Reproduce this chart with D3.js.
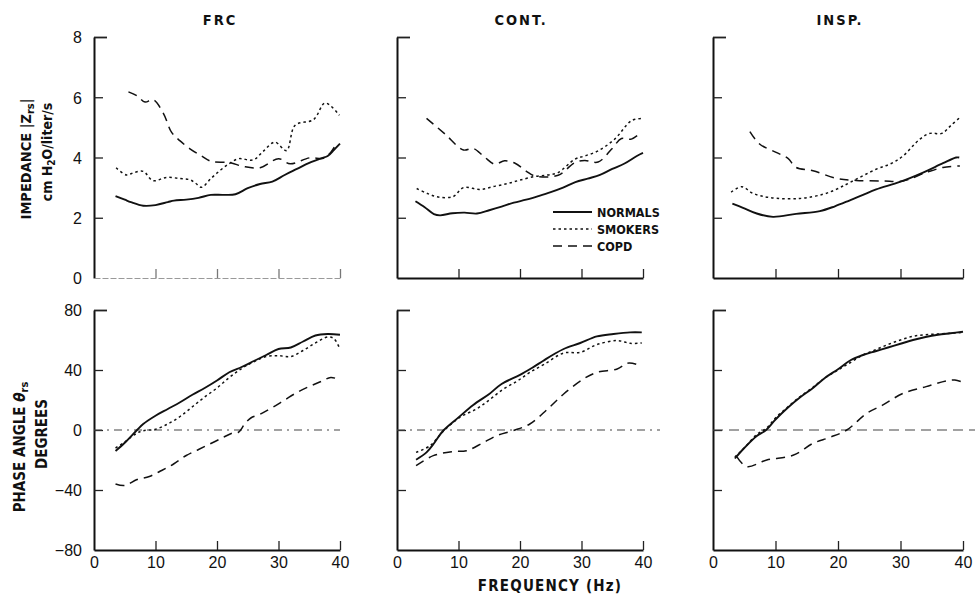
<!DOCTYPE html>
<html><head><meta charset="utf-8">
<script src="https://cdn.jsdelivr.net/npm/d3@7"></script>
<style>
body{margin:0;background:#fff;}
svg{display:block;}
.num{font-family:"Liberation Sans",Arial,sans-serif;font-size:16px;fill:#111;}
.lab{font-family:"Liberation Sans Narrow","DejaVu Sans Condensed",sans-serif;font-weight:bold;fill:#111;}
</style></head><body>
<svg id="c" width="975" height="601"></svg>
<script>
// ---------- data ----------
const panelTitles = ["FRC", "CONT.", "INSP."];
const seriesNames = ["NORMALS", "SMOKERS", "COPD"];
const impTicks = [0, 2, 4, 6, 8];
const phaseTicks = [-80, -40, 0, 40, 80];
const freqTicks = [0, 10, 20, 30, 40];

// FRC impedance |Zrs| (freq Hz, cm H2O/liter/s)
const frcImpNormals = [[3.5,2.72],[5,2.6],[6,2.52],[8,2.4],[10,2.42],[12,2.52],[13,2.57],[15,2.6],[17,2.66],[19,2.76],[21,2.76],[23,2.78],[25,2.98],[27,3.12],[29,3.2],[31,3.42],[33,3.62],[35,3.82],[37,3.98],[38,4.05],[39,4.25],[40,4.46]];
const frcImpSmokers = [[3.6,3.66],[5.3,3.42],[6.5,3.5],[8,3.54],[9.6,3.23],[11.8,3.34],[14,3.3],[15.6,3.26],[16.5,3.15],[17.5,3.01],[19,3.3],[20.5,3.57],[22,3.8],[23.5,3.96],[25.9,3.92],[27.5,4.2],[29.4,4.51],[31.3,4.23],[32.7,5.07],[35.7,5.26],[37.6,5.81],[39.9,5.4]];
const frcImpCopd = [[5.6,6.18],[7,6.05],[8.3,5.84],[9.6,5.92],[11.3,5.46],[12.6,4.84],[14,4.55],[15.6,4.29],[17.5,4.05],[19.1,3.87],[22.1,3.83],[24.3,3.7],[27,3.66],[30,3.96],[31.9,3.79],[35.1,3.99],[37.3,3.97],[38.6,4.2],[39.5,4.51]];
// FRC phase angle (degrees)
const frcPhaseNormals = [[3.5,-14],[5,-8.5],[7,0],[8,4],[10,9.5],[12,14],[14,18.5],[16,23.5],[18,28],[20,33],[22,38.5],[24,42],[26,46],[28,50],[30,54],[32,55],[34,59],[36,63],[38,64],[40,63.5]];
const frcPhaseSmokers = [[3.5,-12],[5,-8],[7,-2],[8,-0.5],[10,0.5],[12,4],[14,9],[16,15.5],[18,22],[20,28],[22,35],[24,41],[26,45.5],[28,49],[30,49.5],[32,49],[34,53],[36,58],[38,62],[39,61],[40,54]];
const frcPhaseCopd = [[3.5,-36],[5,-37],[7,-33],[9,-31],[11,-27],[13,-22.5],[15,-17],[17,-13],[19,-9],[21,-5],[22.5,-2],[23.5,-1.5],[24.5,4],[25.5,8],[27,10.5],[29,15],[31,20],[33,25],[35,29],[37,32.5],[38.5,35],[40,33.5]];
// CONT. impedance
const contImpNormals = [[3,2.55],[4.5,2.35],[6,2.12],[7,2.08],[9,2.15],[11,2.17],[13,2.14],[15,2.25],[17,2.37],[19,2.5],[21,2.6],[23,2.72],[25,2.85],[27,3.0],[29,3.18],[31,3.3],[33,3.42],[35,3.62],[37,3.8],[39,4.05],[40,4.15]];
const contImpSmokers = [[3.2,2.97],[5,2.8],[6.7,2.69],[9.1,2.7],[10.8,3.0],[13.5,2.94],[16,3.05],[18.1,3.14],[20,3.25],[22.4,3.37],[24.5,3.42],[26.2,3.5],[28.9,3.94],[30.5,4.05],[32.7,4.22],[35.4,4.61],[38.1,5.22],[39.8,5.3]];
const contImpCopd = [[4.8,5.3],[7.8,4.78],[10.8,4.25],[12.4,4.3],[14.2,4.02],[15.9,3.78],[17.5,3.89],[19.2,3.81],[21,3.55],[22.4,3.39],[26.2,3.41],[28.9,3.83],[30.5,3.9],[32.7,3.85],[34.9,4.28],[36.5,4.63],[38.1,4.61],[39.8,4.85]];
// CONT. phase angle
const contPhaseNormals = [[3.1,-19.8],[4.8,-14.9],[6,-9],[7.5,-0.5],[10,8.4],[12.4,16.7],[15,24],[17,30.7],[20,36.7],[22,41.5],[23.8,46.2],[25.5,50.5],[27.1,54],[29.8,58],[32.5,62.4],[35.2,64],[37.9,65.1],[39.8,65.1]];
const contPhaseSmokers = [[3.1,-14.9],[5.4,-10.4],[7.5,-1],[10.2,8.4],[12.9,14],[15,20],[17.3,27.3],[19.5,32.5],[21.6,38.4],[24,44],[27.1,51.3],[29.8,51.8],[32.5,56.9],[35.8,59.6],[37.9,57.8],[39.8,58]];
const contPhaseCopd = [[3.1,-23.8],[5.9,-17.1],[9.1,-14.4],[11.3,-13.8],[14,-8.5],[16.2,-3.8],[18.9,-0.4],[21.6,4],[24.5,14],[27.1,24],[30.3,34],[32.5,38.4],[35.8,40.7],[37.7,44.7],[39.8,42.4]];
// INSP. impedance
const inspImpNormals = [[3.1,2.47],[4.8,2.33],[7,2.14],[9.6,2.03],[13.3,2.13],[17.1,2.22],[19.5,2.38],[21.9,2.58],[24,2.76],[26.1,2.94],[29.9,3.19],[33.6,3.5],[36.8,3.81],[38.9,4.0],[39.4,4.0]];
const inspImpSmokers = [[2.9,2.85],[4.6,3.03],[6.4,2.81],[9.1,2.67],[13.9,2.64],[17.6,2.78],[19.8,2.95],[21.9,3.17],[26.1,3.61],[28.5,3.8],[30.4,4.05],[33.1,4.61],[34.7,4.8],[36.6,4.8],[38,5.05],[39.5,5.33]];
const inspImpCopd = [[5.9,4.86],[7.5,4.44],[10.1,4.17],[12,3.97],[13.3,3.67],[16,3.56],[19.7,3.31],[22.9,3.24],[27.2,3.22],[30.4,3.22],[34.1,3.5],[36.8,3.67],[39.5,3.72]];
// INSP. phase angle
const inspPhaseNormals = [[3.5,-19],[5,-12],[7,-4],[8.5,0],[10,7],[12,15],[14,22],[16,28],[18,35],[20,40.5],[22,46.5],[24,50],[26,52.5],[28,55],[30,57.5],[32,60],[34,62],[36,63.5],[38,64.5],[40,65.5]];
const inspPhaseSmokers = [[3.5,-18],[5,-12],[7,-3],[8.5,1],[10,8],[12,15.5],[14,22.5],[16,28.5],[18,35],[20,40],[22,45],[24,50],[26,53.5],[28,57],[30,60],[32,62.5],[34,63.5],[36,64],[38,64.5],[40,65]];
const inspPhaseCopd = [[3.8,-17.8],[5.4,-24.4],[8.6,-20],[12.9,-16.7],[16,-8.9],[18.7,-4.9],[21.4,0],[24.6,11.1],[27.2,16.7],[30.4,24.4],[34.1,28.9],[37.3,32.7],[38.7,33.3],[40,31.8]];

// ---------- layout ----------
const svg = d3.select("#c");
const panelX = [[94, 340], [397, 643], [713, 963]];
const impRange = [278, 37];
const phaseRange = [550, 310];
const styles = [
  {dash: null, w: 1.9},
  {dash: "2.5,3", w: 1.5},
  {dash: "9,6", w: 1.5}
];
const impData = [
  [frcImpNormals, frcImpSmokers, frcImpCopd],
  [contImpNormals, contImpSmokers, contImpCopd],
  [inspImpNormals, inspImpSmokers, inspImpCopd]
];
const phaseData = [
  [frcPhaseNormals, frcPhaseSmokers, frcPhaseCopd],
  [contPhaseNormals, contPhaseSmokers, contPhaseCopd],
  [inspPhaseNormals, inspPhaseSmokers, inspPhaseCopd]
];

function drawPanel(i, row) {
  const x = d3.scaleLinear().domain([0, 40]).range(panelX[i]);
  const isImp = row === 0;
  const y = isImp ? d3.scaleLinear().domain([0, 8]).range(impRange)
                  : d3.scaleLinear().domain([-80, 80]).range(phaseRange);
  const g = svg.append("g");
  // y axis
  const ya = d3.axisLeft(y).tickValues(isImp ? impTicks : phaseTicks)
    .tickSizeInner(-9).tickSizeOuter(0).tickPadding(12)
    .tickFormat(i === 0 ? d3.format("d") : () => "");
  const yg = g.append("g").attr("transform", `translate(${x(0)},0)`).call(ya);
  yg.select(".domain").attr("stroke", "#111").attr("stroke-width", 2);
  yg.selectAll(".tick line").attr("stroke", "#222").attr("stroke-width", 1.3);
  yg.selectAll(".tick").filter(d => d === (isImp ? 8 : 80)).select("line")
    .attr("x2", 13).attr("stroke-width", 1.8);
  yg.selectAll(".tick").filter(d => d === (isImp ? 0 : -80)).select("line").remove();
  yg.selectAll("text").attr("class", "num").attr("font-family", null).attr("font-size", null)
    .attr("dy", "0.36em");
  // x axis
  const xa = d3.axisBottom(x).tickValues(freqTicks)
    .tickSizeInner(-9).tickSizeOuter(0).tickPadding(7)
    .tickFormat(isImp ? () => "" : d3.format("d"));
  const xg = g.append("g").attr("transform", `translate(0,${y.range()[0]})`).call(xa);
  const faint = isImp && i === 0;
  xg.select(".domain").attr("stroke", faint ? "#999" : "#111").attr("stroke-width", faint ? 1.2 : 2)
    .attr("stroke-dasharray", faint ? "6,2" : null);
  xg.selectAll(".tick line").attr("stroke", faint ? "#777" : "#222").attr("stroke-width", 1.3);
  xg.selectAll(".tick").filter(d => d === 0).select("line").remove();
  xg.selectAll("text").attr("class", "num").attr("font-family", null).attr("font-size", null);
  // zero line for phase
  if (!isImp) {
    g.append("line")
      .attr("x1", x(0)).attr("x2", i === 0 ? x(40) : x(40) + 17)
      .attr("y1", y(0)).attr("y2", y(0))
      .attr("stroke", "#444").attr("stroke-width", 1.1)
      .attr("stroke-dasharray", i === 2 ? "10,6" : "8,5,2,5");
  }
  // series
  const line = d3.line().x(d => x(d[0])).y(d => y(d[1])).curve(d3.curveCatmullRom.alpha(0.5));
  const data = isImp ? impData[i] : phaseData[i];
  data.forEach((s, k) => {
    g.append("path").datum(s).attr("d", line)
      .attr("fill", "none").attr("stroke", "#111")
      .attr("stroke-width", styles[k].w)
      .attr("stroke-dasharray", styles[k].dash);
  });
  return {x, y};
}

for (let i = 0; i < 3; i++) { drawPanel(i, 0); drawPanel(i, 1); }

// titles
const titleX = [220, 521, 840];
panelTitles.forEach((t, i) => {
  svg.append("text").attr("class", "lab").attr("x", titleX[i]).attr("y", 25)
    .attr("text-anchor", "middle").attr("font-size", 14.5).attr("letter-spacing", 2).text(t);
});

// y-axis labels
function vlabel(cx, cy, size, build) {
  const t = svg.append("text").attr("class", "lab").attr("font-size", size)
    .attr("text-anchor", "middle").attr("transform", `translate(${cx},${cy}) rotate(-90)`);
  build(t);
}
vlabel(31, 159, 14.5, t => {
  t.append("tspan").text("IMPEDANCE |Z");
  t.append("tspan").attr("font-size", 11).attr("dy", 3).text("rs");
  t.append("tspan").attr("dy", -3).text("|");
});
vlabel(52, 152, 14, t => {
  t.append("tspan").text("cm H");
  t.append("tspan").attr("font-size", 10).attr("dy", 3).text("2");
  t.append("tspan").attr("dy", -3).text("O/liter/s");
});
vlabel(25, 447, 15, t => {
  t.append("tspan").text("PHASE ANGLE ");
  t.append("tspan").attr("font-style", "italic").text("θ");
  t.append("tspan").attr("font-size", 11).attr("dy", 3).text("rs");
});
vlabel(47, 434, 15, t => t.text("DEGREES"));

// x-axis label
svg.append("text").attr("class", "lab").attr("x", 550).attr("y", 591)
  .attr("text-anchor", "middle").attr("font-size", 15).attr("letter-spacing", 1.2)
  .text("FREQUENCY (Hz)");

// legend (inside CONT. impedance panel)
const legY = [212, 229, 246];
seriesNames.forEach((n, k) => {
  svg.append("line").attr("x1", 553).attr("x2", 592).attr("y1", legY[k]).attr("y2", legY[k])
    .attr("stroke", "#111").attr("stroke-width", styles[k].w).attr("stroke-dasharray", styles[k].dash);
  svg.append("text").attr("class", "lab").attr("x", 597).attr("y", legY[k] + 4.5)
    .attr("font-size", 12.5).text(n);
});
</script>
</body></html>
